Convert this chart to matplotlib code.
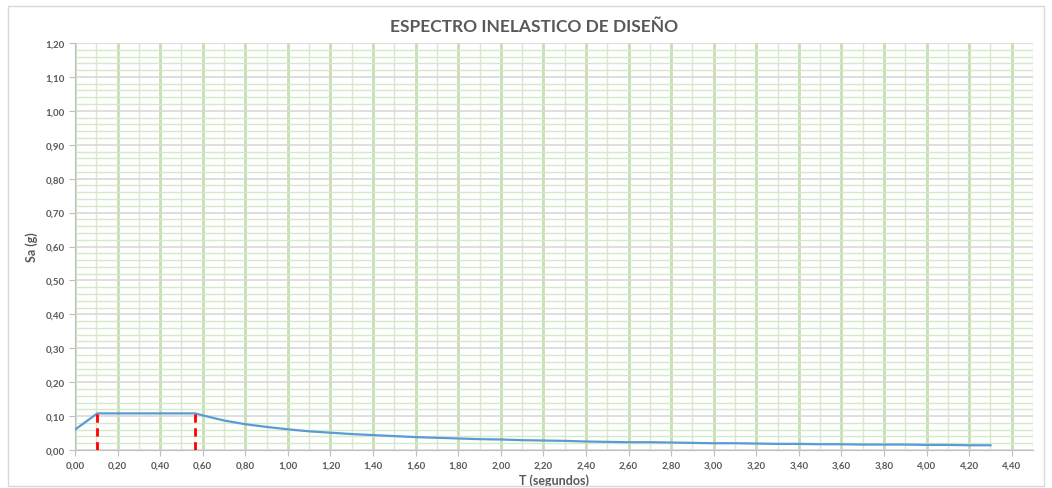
import numpy as np
import matplotlib
matplotlib.use("Agg")
import matplotlib.pyplot as plt
from matplotlib.ticker import MultipleLocator, FuncFormatter
from matplotlib.patches import Rectangle

# periodo T (s) y aceleracion espectral Sa (g)
T = [0.00, 0.105, 0.565, 0.60, 0.70, 0.80, 0.90, 1.00, 1.10, 1.20, 1.30, 1.40,
     1.50, 1.60, 1.70, 1.80, 1.90, 2.00, 2.10, 2.20, 2.30, 2.40, 2.50, 2.60,
     2.70, 2.80, 2.90, 3.00, 3.10, 3.20, 3.30, 3.40, 3.50, 3.60, 3.70, 3.80,
     3.90, 4.00, 4.10, 4.20, 4.30]
Sa = [0.060, 0.108, 0.108, 0.102, 0.087, 0.076, 0.068, 0.061, 0.055, 0.051, 0.047, 0.044,
      0.041, 0.038, 0.036, 0.034, 0.032, 0.031, 0.029, 0.028, 0.027, 0.025, 0.024, 0.023,
      0.023, 0.022, 0.021, 0.020, 0.020, 0.019, 0.018, 0.018, 0.017, 0.017, 0.016, 0.016,
      0.016, 0.015, 0.015, 0.014, 0.014]
# periodos limite (To, Tc) con linea roja
T_lim = [0.105, 0.565]
Sa_lim = [0.108, 0.108]

plt.rcParams['font.family'] = ['Lato', 'DejaVu Sans']
plt.rcParams['font.weight'] = 'bold'

fig = plt.figure(figsize=(10.52, 4.89), dpi=100)
ax = fig.add_axes([0.0713, 0.0777, 0.9107, 0.8323])

# marco exterior del grafico
fig.patches.append(Rectangle((0.008, 0.004), 0.984, 0.982, transform=fig.transFigure,
                             fill=False, edgecolor="#d9d9d9", linewidth=1))

ax.set_xlim(0, 4.5)
ax.set_ylim(0, 1.2)
ax.xaxis.set_major_locator(MultipleLocator(0.2))
ax.xaxis.set_minor_locator(MultipleLocator(0.1))
ax.yaxis.set_major_locator(MultipleLocator(0.1))
ax.yaxis.set_minor_locator(MultipleLocator(0.02))
fmt = FuncFormatter(lambda v, p: ("%.2f" % v).replace(".", ","))
ax.xaxis.set_major_formatter(fmt)
ax.yaxis.set_major_formatter(fmt)

# rejilla estilo excel
ax.grid(which="minor", axis="y", color="#d5e8c8", linewidth=1)
ax.grid(which="major", axis="y", color="#d9d9d9", linewidth=1.2)
ax.grid(which="minor", axis="x", color="#d8eacb", linewidth=1)
ax.grid(which="major", axis="x", color="#c5dfb3", linewidth=2)
ax.set_axisbelow(True)

for s in ["top", "right"]:
    ax.spines[s].set_visible(False)
for s in ["left", "bottom"]:
    ax.spines[s].set_color("#bfbfbf")
ax.tick_params(which="major", length=4, color="#bfbfbf", labelsize=7,
               labelcolor="#595959")
ax.tick_params(which="minor", length=0)

ax.plot(T, Sa, color="#5b9bd5", linewidth=1.6, zorder=3)
for t, s in zip(T_lim, Sa_lim):
    ax.plot([t, t], [0, s], color="#ff0000", linewidth=2, linestyle=(0, (3, 2)), zorder=4)

fig.text(0.508, 0.945, "ESPECTRO INELASTICO DE DISEÑO", ha="center", va="center",
         fontsize=12.5, fontweight="bold", color="#595959")
ax.set_xlabel("T (segundos)", fontsize=9, fontweight="bold", color="#595959", labelpad=3)
ax.set_ylabel("Sa (g)", fontsize=9, fontweight="bold", color="#595959", labelpad=5)

fig.savefig("out.png", dpi=100)
